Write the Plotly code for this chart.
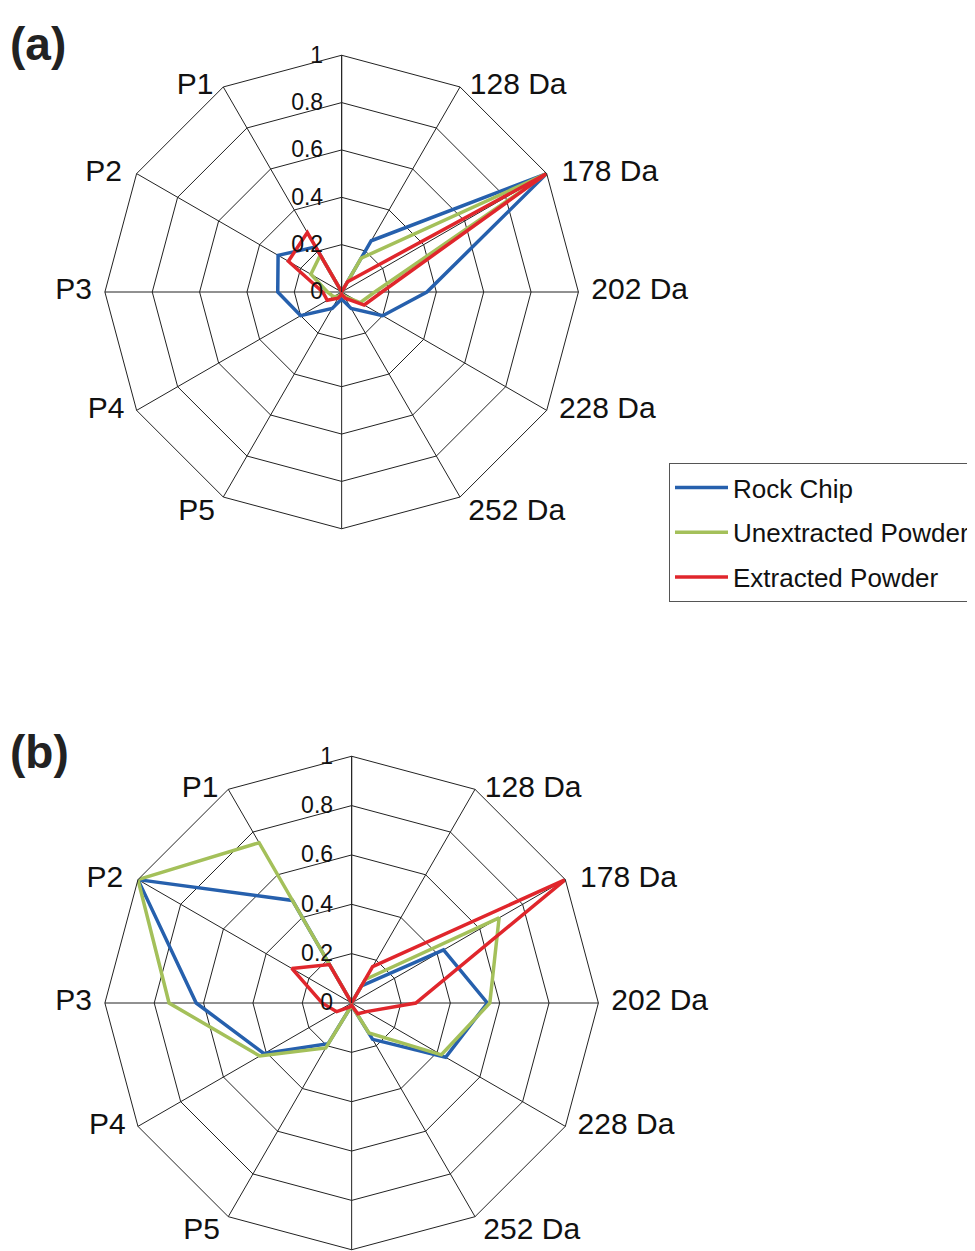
import plotly.graph_objects as go

categories = [" ", "128 Da", "178 Da", "202 Da", "228 Da", "252 Da", "  ",
              "P5", "P4", "P3", "P2", "P1"]
series_names = ["Rock Chip", "Unextracted Powder", "Extracted Powder"]

# Panel (a)
rock_a = [0.00, 0.25, 1.00, 0.36, 0.20, 0.08, 0.03, 0.08, 0.20, 0.27, 0.31, 0.22]
unext_a = [0.00, 0.165, 1.00, 0.14, 0.09, 0.02, 0.01, 0.02, 0.04, 0.06, 0.15, 0.18]
ext_a = [0.00, 0.05, 1.00, 0.17, 0.11, 0.03, 0.01, 0.03, 0.07, 0.08, 0.26, 0.29]

# Panel (b)
rock_b = [0.00, 0.08, 0.43, 0.55, 0.44, 0.17, 0.01, 0.19, 0.41, 0.63, 1.00, 0.48]
unext_b = [0.00, 0.11, 0.69, 0.56, 0.42, 0.14, 0.01, 0.21, 0.43, 0.74, 1.00, 0.75]
ext_b = [0.00, 0.17, 1.00, 0.26, 0.07, 0.05, 0.01, 0.02, 0.07, 0.12, 0.28, 0.18]

radial_ticks = [0, 0.2, 0.4, 0.6, 0.8, 1]
radial_ticktext = ["0", "0.2", "0.4", "0.6", "0.8", "1"]

# category label text, placement side and offset marker size (styles)
NB = "\u00a0"
label_text = ["", "128 Da", "178 Da", "202 Da", "228 Da", NB + "252 Da", "",
              "P5" + NB, "P4", "P3", "P2", "P1"]
label_pos = ["middle right", "middle right", "middle right", "middle right",
             "middle right", "bottom right", "bottom left", "bottom left",
             "middle left", "middle left", "middle left", "middle left"]
label_msize = [0, 14, 22, 19, 18, 0, 0, 0, 18, 19, 22, 14]
label_r = [1] * len(categories)

colors = ["#2660ad", "#a4c05a", "#e0262c"]

PAD = 8  # browser body margin
W, H = 975 - PAD, 1251 - PAD

fig = go.Figure()


def closed(vals):
    return list(vals) + [vals[0]]


theta_c = closed(categories)

for subplot, data, show in [("polar", [rock_a, unext_a, ext_a], True),
                            ("polar2", [rock_b, unext_b, ext_b], False)]:
    fig.add_trace(go.Scatterpolar(
        r=label_r, theta=categories, mode="markers+text",
        text=label_text, textposition=label_pos,
        textfont=dict(size=30, color="#111"),
        marker=dict(size=label_msize, opacity=0, color="white"),
        showlegend=False, subplot=subplot, hoverinfo="skip",
        cliponaxis=False))
    for name, vals, col in zip(series_names, data, colors):
        fig.add_trace(go.Scatterpolar(
            r=closed(vals), theta=theta_c, mode="lines",
            line=dict(color=col, width=3.5),
            name=name, showlegend=show, subplot=subplot,
            legendgroup=name, hoverinfo="skip"))


def px_x(sx):
    return (sx - PAD) / W


def px_y(sy):
    return 1 - (sy - PAD) / H


def polar_layout(cx, cy, rad):
    dom_x = [px_x(cx - rad), px_x(cx + rad)]
    dom_y = [px_y(cy + rad), px_y(cy - rad)]
    return dict(
        domain=dict(x=dom_x, y=dom_y),
        gridshape="linear",
        bgcolor="white",
        angularaxis=dict(
            type="category", categoryorder="array", categoryarray=categories,
            rotation=90, direction="clockwise",
            showline=True, linecolor="#222", linewidth=1,
            showgrid=True, gridcolor="#222", gridwidth=1,
            ticks="", showticklabels=False,
        ),
        radialaxis=dict(
            range=[0, 1], tickvals=radial_ticks, ticktext=radial_ticktext,
            angle=90, side="counterclockwise",
            showline=True, linecolor="#222", linewidth=1,
            showgrid=True, gridcolor="#222", gridwidth=1,
            ticks="outside", ticklen=10, tickcolor="rgba(0,0,0,0)",
            tickfont=dict(size=23, color="#111"),
            tickangle=90,
        ),
    )


fig.update_layout(
    width=W, height=H,
    margin=dict(l=0, r=0, t=0, b=0),
    paper_bgcolor="white",
    font=dict(family="Liberation Sans, Arial, sans-serif", color="#111"),
    polar=polar_layout(342, 292, 237),
    polar2=polar_layout(352, 1003, 247),
    legend=dict(
        x=px_x(670), y=px_y(463), xanchor="left", yanchor="top",
        bgcolor="white", bordercolor="#555", borderwidth=1,
        font=dict(size=26, color="#111"),
        tracegroupgap=8, itemwidth=53,
    ),
    annotations=[
        dict(text="<b>(a)</b>", x=px_x(8), y=px_y(44), xref="paper", yref="paper",
             xanchor="left", yanchor="middle", showarrow=False,
             font=dict(size=46, color="#222")),
        dict(text="<b>(b)</b>", x=px_x(8), y=px_y(752), xref="paper", yref="paper",
             xanchor="left", yanchor="middle", showarrow=False,
             font=dict(size=46, color="#222")),
    ],
)

fig.write_html("out.html")
